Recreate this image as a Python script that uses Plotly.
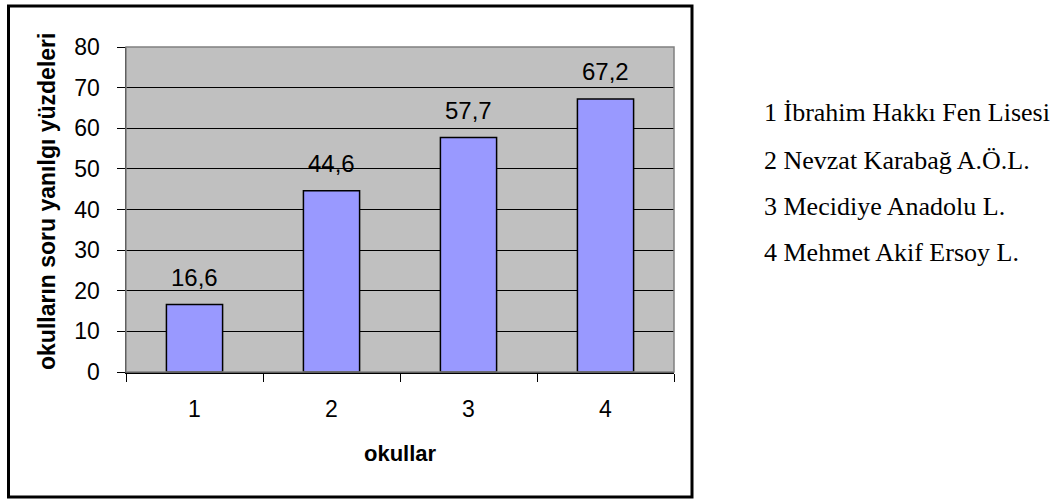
import plotly.graph_objects as go

categories = ["1", "2", "3", "4"]
values = [16.6, 44.6, 57.7, 67.2]
schools = ["1 İbrahim Hakkı Fen Lisesi", "2 Nevzat Karabağ A.Ö.L.",
           "3 Mecidiye Anadolu L.", "4 Mehmet Akif Ersoy L."]
y_title = "okulların soru yanılgı yüzdeleri"
x_title = "okullar"

W, H = 1063, 500
L, R, T, B = 126, 674, 47, 372
pw, ph = R - L, B - T

def px_x(x):
    return (x - L) / pw

def px_y(y):
    return (B - y) / ph

fig = go.Figure()
fig.add_trace(go.Bar(
    x=categories, y=values,
    marker=dict(color="#9999FF", line=dict(color="black", width=1.5)),
    hoverinfo="skip",
))

annotations = []
for i, v in enumerate(values):
    annotations.append(dict(
        x=i, y=v, xref="x", yref="y", text=f"{v:.1f}".replace(".", ","),
        showarrow=False, yanchor="bottom", yshift=12,
        font=dict(family="Liberation Sans, Arial", size=24, color="black"),
    ))

annotations.append(dict(
    x=0.5, y=px_y(453), xref="paper", yref="paper", text=f"<b>{x_title}</b>",
    showarrow=False, xanchor="center", yanchor="middle",
    font=dict(family="Liberation Sans, Arial", size=22, color="black"),
))
annotations.append(dict(
    x=px_x(47), y=px_y(202), xref="paper", yref="paper", text=f"<b>{y_title}</b>",
    showarrow=False, xanchor="center", yanchor="middle", textangle=-90,
    font=dict(family="Liberation Sans, Arial", size=23, color="black"),
))

line_y = [113, 160, 206, 252]
for s, yy in zip(schools, line_y):
    annotations.append(dict(
        x=px_x(762), y=px_y(yy), xref="paper", yref="paper", text=s,
        showarrow=False, xanchor="left", yanchor="middle",
        font=dict(family="Liberation Serif, Times New Roman", size=26, color="black"),
    ))

shapes = [
    dict(type="rect", xref="paper", yref="paper",
         x0=px_x(8.5), x1=px_x(692), y0=px_y(497), y1=px_y(6),
         line=dict(color="black", width=3), fillcolor="rgba(0,0,0,0)", layer="below"),
    dict(type="rect", xref="paper", yref="paper", x0=0, x1=1, y0=0, y1=1,
         line=dict(color="#808080", width=1.5), fillcolor="rgba(0,0,0,0)", layer="above"),
]

fig.update_layout(
    width=W, height=H,
    margin=dict(l=L, r=W - R, t=T, b=H - B, pad=0),
    paper_bgcolor="white", plot_bgcolor="#C0C0C0",
    showlegend=False, bargap=0.59,
    annotations=annotations, shapes=shapes,
    font=dict(family="Liberation Sans, Arial", size=22, color="black"),
)
fig.update_xaxes(
    type="category", range=[-0.5, len(categories) - 0.5],
    tickson="boundaries", ticks="outside", ticklen=8,
    tickcolor="black", tickwidth=1, showline=True, linecolor="black", linewidth=1.5,
    showgrid=False, ticklabelstandoff=16,
    tickfont=dict(family="Liberation Sans, Arial", size=23, color="black"),
)
fig.update_yaxes(
    range=[0, 80], dtick=10, ticks="outside", ticklen=8, tickcolor="black", tickwidth=1,
    showline=True, linecolor="black", linewidth=1.5, showgrid=True, gridcolor="black",
    gridwidth=1, zeroline=False, ticklabelstandoff=12,
    tickfont=dict(family="Liberation Sans, Arial", size=23, color="black"),
)

fig.write_html(
    "out.html",
    config={"displayModeBar": False, "staticPlot": True},
    post_script="document.body.style.margin='0';document.body.style.overflow='hidden';",
)
